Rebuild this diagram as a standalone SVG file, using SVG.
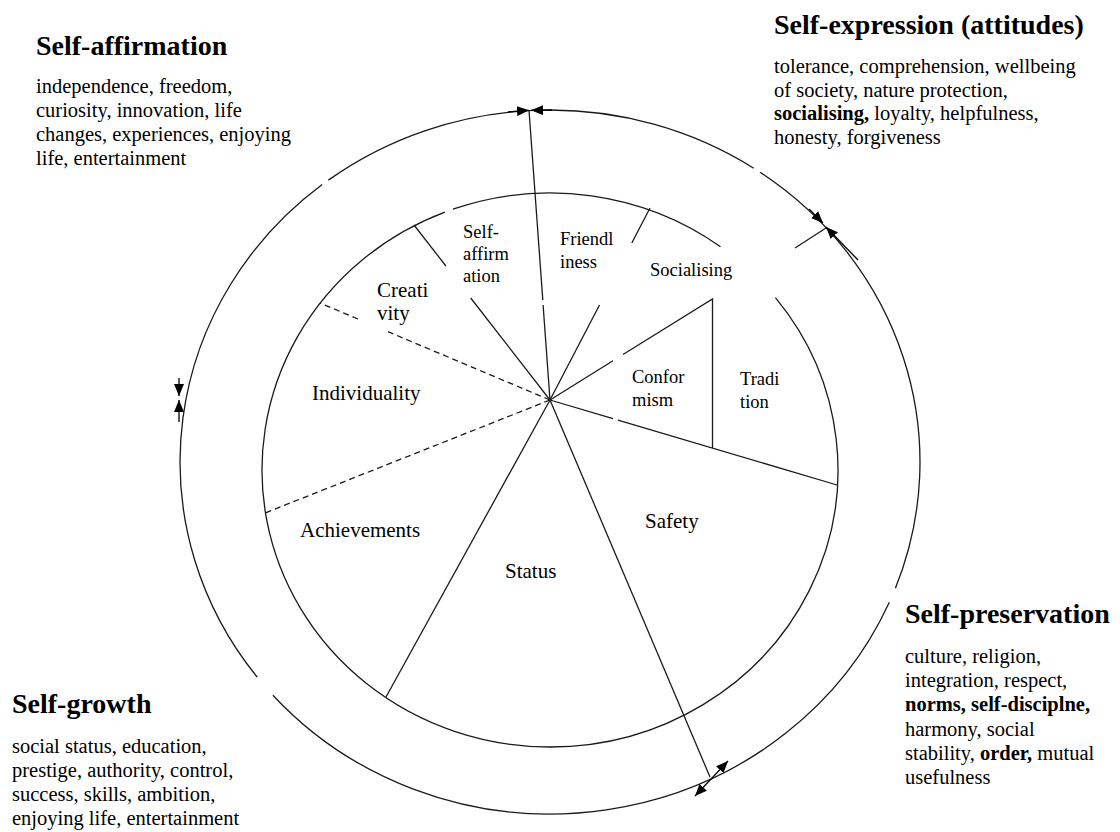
<svg xmlns="http://www.w3.org/2000/svg" width="1120" height="832" viewBox="0 0 1120 832">
<style>
  .ln{fill:none;stroke:#1a1a1a;stroke-width:1.3}
  .dash{fill:none;stroke:#1a1a1a;stroke-width:1.3;stroke-dasharray:6 4}
  .arr{fill:none;stroke:#000;stroke-width:1.3;marker-end:url(#ah)}
  text{font-family:"Liberation Serif","Times New Roman",serif;fill:#000}
  .title{font-size:28px;font-weight:bold}
  .body{font-size:20.5px}
  .lbl{font-size:18.5px}
  .big{font-size:21px}
  .b{font-weight:bold}
</style>
<defs>
  <marker id="ah" viewBox="0 0 12 10" refX="12" refY="5" markerWidth="12" markerHeight="10" markerUnits="userSpaceOnUse" orient="auto">
    <path d="M0,0 L12,5 L0,10 z" fill="#000"/>
  </marker>
</defs>
<rect width="1120" height="832" fill="#fff"/>

<g id="circles">
  <path id="outer-ring" class="ln" d="M328.4,180.1 A370,352 0 0 1 753.7,168.2 M760.1,172.3 A370,352 0 0 1 895.4,588.2 M889.3,602.3 A370,352 0 0 1 272.9,695.2 M257.3,677.2 A370,352 0 0 1 322.2,184.6"/>
  <path id="inner-ring" class="ln" d="M452.9,209.2 A288,277 0 0 1 720.5,246.8 M775.4,297.6 A288,277 0 0 1 550,747 A288,277 0 0 1 444.9,212.1"/>
</g>

<g id="connectors">
  <path class="ln" d="M550,400 L543.1,305 M542.8,300 L529,110.3"/>
  <path class="ln" d="M550,400 L470.7,298 M445.9,266 L414,225"/>
  <path class="dash" d="M550,400 L388,331.7 M358,319 L320,303"/>
  <path class="dash" d="M550,400 L265,513"/>
  <path class="ln" d="M550,400 L386,697"/>
  <path class="ln" d="M550,400 L710,777"/>
  <path class="ln" d="M550,400 L613,418.7 M618,420.1 L837,485"/>
  <path class="ln" d="M550,400 L613,360.7 M623,354.5 L712.5,299 L712.5,448"/>
  <path class="ln" d="M550,400 L599.5,305 M631.8,243 L650,208"/>
  <path class="ln" d="M795,248 L826,228"/>
  <path class="arr" d="M508,111.8 L529,110.3"/>
  <path class="arr" d="M552,110 L531,110.3"/>
  <path class="arr" d="M179,378 L179,396"/>
  <path class="arr" d="M179,422 L179,400"/>
  <path class="arr" d="M809,209 L823,223"/>
  <path class="arr" d="M858,260 L826,227"/>
  <path class="arr" d="M711.5,778.5 L695,796"/>
  <path class="arr" d="M711.5,778.5 L728,761"/>
</g>

<g id="self-affirmation-block">
  <text class="title" x="36" y="55">Self-affirmation</text>
  <text class="body" x="36" y="93">independence, freedom,</text>
  <text class="body" x="36" y="117">curiosity, innovation, life</text>
  <text class="body" x="36" y="141">changes, experiences, enjoying</text>
  <text class="body" x="36" y="165">life, entertainment</text>
</g>

<g id="self-expression-block">
  <text class="title" x="774" y="34">Self-expression (attitudes)</text>
  <text class="body" x="774" y="73">tolerance, comprehension, wellbeing</text>
  <text class="body" x="774" y="97">of society, nature protection,</text>
  <text class="body" x="774" y="120"><tspan class="b">socialising,</tspan> loyalty, helpfulness,</text>
  <text class="body" x="774" y="144">honesty, forgiveness</text>
</g>

<g id="self-growth-block">
  <text class="title" x="12" y="713">Self-growth</text>
  <text class="body" x="12" y="753">social status, education,</text>
  <text class="body" x="12" y="777">prestige, authority, control,</text>
  <text class="body" x="12" y="801">success, skills, ambition,</text>
  <text class="body" x="12" y="825">enjoying life, entertainment</text>
</g>

<g id="self-preservation-block">
  <text class="title" x="905" y="623">Self-preservation</text>
  <text class="body" x="905" y="663">culture, religion,</text>
  <text class="body" x="905" y="687">integration, respect,</text>
  <text class="body" x="905" y="711"><tspan class="b">norms, self-disciplne,</tspan></text>
  <text class="body" x="905" y="736">harmony, social</text>
  <text class="body" x="905" y="760">stability, <tspan class="b">order,</tspan> mutual</text>
  <text class="body" x="905" y="784">usefulness</text>
</g>

<g id="seg-self-affirmation">
  <text class="lbl" x="463" y="238">Self-</text>
  <text class="lbl" x="463" y="260">affirm</text>
  <text class="lbl" x="463" y="282">ation</text>
</g>
<g id="seg-friendliness">
  <text class="lbl" x="560" y="245">Friendl</text>
  <text class="lbl" x="560" y="268">iness</text>
</g>
<g id="seg-socialising">
  <text class="lbl" x="650" y="276">Socialising</text>
</g>
<g id="seg-creativity">
  <text class="big" x="377" y="297">Creati</text>
  <text class="big" x="377" y="320">vity</text>
</g>
<g id="seg-individuality">
  <text class="big" x="312" y="400">Individuality</text>
</g>
<g id="seg-conformism">
  <text class="lbl" x="632" y="383">Confor</text>
  <text class="lbl" x="632" y="406">mism</text>
</g>
<g id="seg-tradition">
  <text class="lbl" x="740" y="385">Tradi</text>
  <text class="lbl" x="740" y="408">tion</text>
</g>
<g id="seg-safety">
  <text class="big" x="645" y="528">Safety</text>
</g>
<g id="seg-status">
  <text class="big" x="505" y="578">Status</text>
</g>
<g id="seg-achievements">
  <text class="big" x="300" y="537">Achievements</text>
</g>
</svg>
